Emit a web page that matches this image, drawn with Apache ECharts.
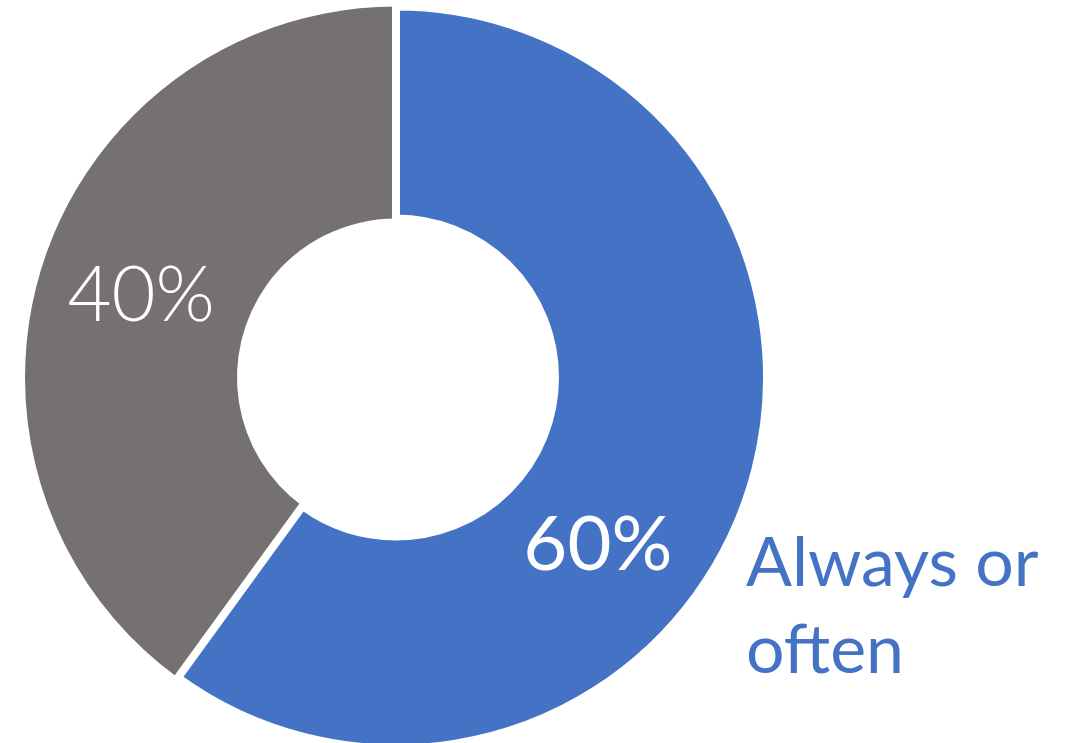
<!DOCTYPE html>
<html>
<head>
<meta charset="utf-8">
<script src="https://cdn.jsdelivr.net/npm/echarts@6/dist/echarts.min.js"></script>
<style>
html,body{margin:0;padding:0;background:#fff;}
#chart{width:1066px;height:743px;}
</style>
</head>
<body>
<div id="chart"></div>
<script>
// Data (drawn counter-clockwise from 12 o'clock: grey first, then blue)
var categories = ['Other', 'Always or often'];
var values = [40, 60];
var colors = ['#767171', '#4472C4'];

var chart = echarts.init(document.getElementById('chart'), null, {renderer: 'canvas'});

var option = {
  backgroundColor: '#ffffff',
  animation: false,
  series: [{
    type: 'pie',
    center: [396, 377.5],
    radius: [159, 371],
    startAngle: 90,
    clockwise: false,
    silent: true,
    data: categories.map(function (c, i) {
      return {
        name: c,
        value: values[i],
        itemStyle: i === 1
          ? {color: colors[i], borderColor: '#ffffff', borderWidth: 8}
          : {color: colors[i], borderWidth: 0},
        label: i === 1
          ? {fontWeight: 400}
          : {fontWeight: 300}
      };
    }),
    label: {
      show: true,
      position: 'inside',
      formatter: function (p) { return p.value + '%'; },
      color: '#ffffff',
      fontFamily: 'Lato',
      fontSize: 76
    },
    labelLine: {show: false},
    labelLayout: function (params) {
      if (params.dataIndex === 1) {
        return {dx: -53, dy: 85};
      }
      return {dx: 0, dy: 2};
    }
  }],
  graphic: [{
    type: 'text',
    left: 746,
    top: 521,
    style: {
      text: categories[1].replace(' often', '\noften'),
      fill: colors[1],
      fontFamily: 'Lato',
      fontSize: 68,
      lineHeight: 87
    }
  }]
};
chart.setOption(option);
</script>
</body>
</html>
